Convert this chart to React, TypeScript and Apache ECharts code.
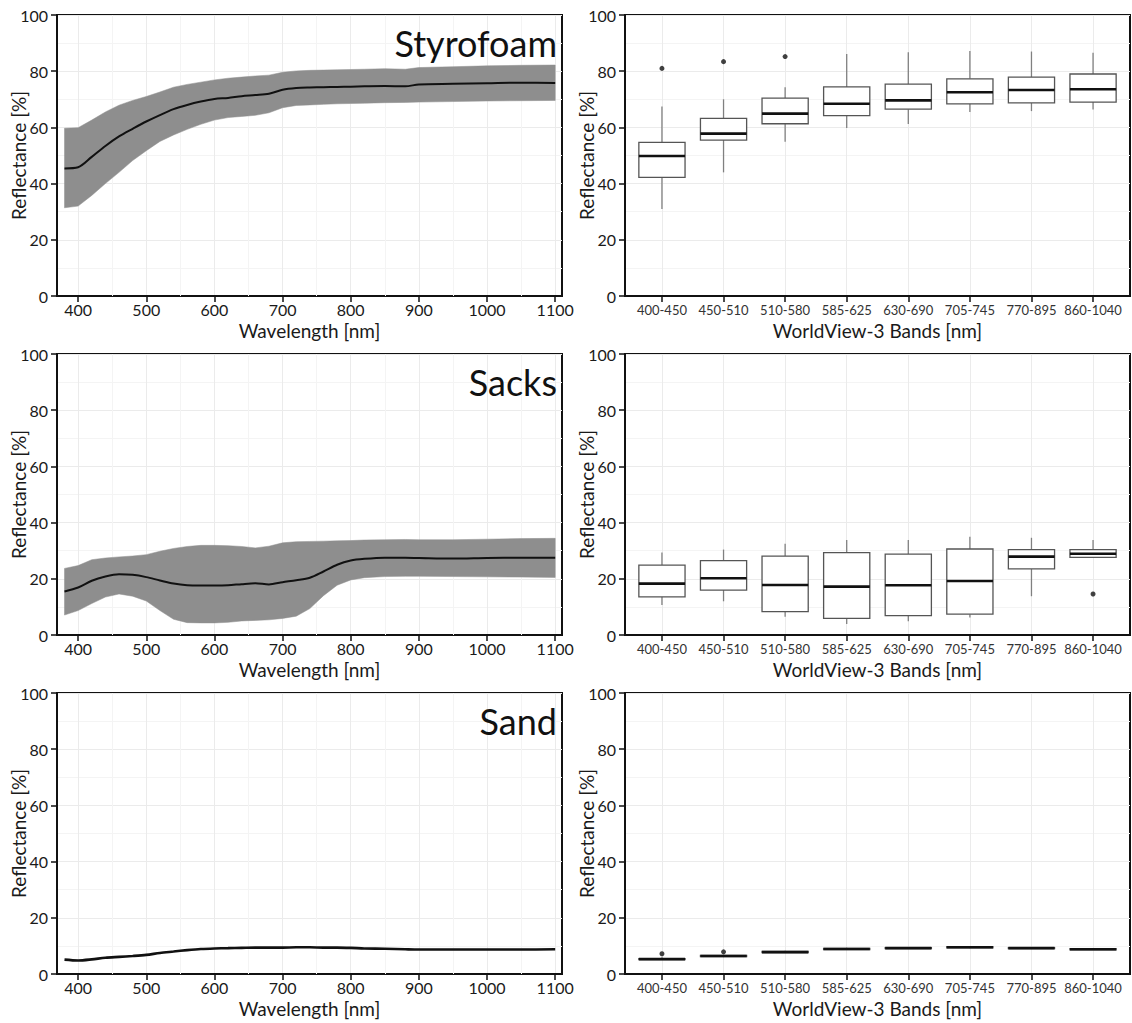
import React, { useEffect, useRef } from "react";
import * as echarts from "echarts";

// ---------- data ----------
const WAVELENGTHS = [380, 400, 420, 440, 460, 480, 500, 520, 540, 560, 580, 600, 620, 640, 660, 680, 700, 720, 740, 760, 780, 800, 820, 850, 880, 900, 950, 1000, 1050, 1100];

const STYRO_MEAN = [45.4, 45.8, 49.5, 53.4, 56.8, 59.5, 62.1, 64.4, 66.5, 68.0, 69.2, 70.1, 70.5, 71.1, 71.5, 72.0, 73.4, 74.0, 74.2, 74.3, 74.4, 74.5, 74.6, 74.7, 74.6, 75.3, 75.5, 75.7, 75.9, 75.8];
const STYRO_UPPER = [59.7, 59.9, 62.6, 65.5, 67.9, 69.6, 71.0, 72.6, 74.3, 75.3, 76.1, 76.9, 77.5, 77.9, 78.3, 78.6, 79.6, 80.1, 80.3, 80.4, 80.5, 80.6, 80.7, 80.9, 80.7, 81.3, 81.6, 81.9, 82.1, 82.2];
const STYRO_LOWER = [31.4, 32.0, 35.8, 40.0, 44.0, 48.2, 51.7, 55.0, 57.3, 59.3, 61.1, 62.6, 63.5, 63.9, 64.3, 65.2, 67.0, 67.8, 68.0, 68.2, 68.4, 68.5, 68.6, 68.8, 68.9, 69.0, 69.2, 69.4, 69.5, 69.6];

const SACKS_MEAN = [15.5, 16.9, 19.3, 20.8, 21.6, 21.4, 20.6, 19.4, 18.3, 17.7, 17.6, 17.6, 17.7, 18.1, 18.4, 18.0, 18.8, 19.5, 20.4, 22.6, 25.0, 26.5, 27.1, 27.5, 27.5, 27.4, 27.2, 27.4, 27.5, 27.5];
const SACKS_UPPER = [23.7, 24.7, 26.8, 27.4, 27.8, 28.1, 28.6, 29.8, 30.8, 31.5, 31.9, 31.9, 31.8, 31.5, 31.0, 31.6, 32.8, 33.2, 33.3, 33.4, 33.5, 33.6, 33.8, 33.9, 34.0, 33.9, 33.9, 34.1, 34.3, 34.4];
const SACKS_LOWER = [7.1, 8.7, 11.2, 13.5, 14.6, 13.8, 12.1, 8.7, 5.6, 4.4, 4.3, 4.3, 4.5, 5.0, 5.2, 5.4, 5.9, 6.7, 9.4, 14.0, 17.7, 19.6, 20.4, 20.8, 20.9, 20.9, 20.8, 20.7, 20.6, 20.5];

const SAND_MEAN = [5.1, 4.8, 5.2, 5.8, 6.1, 6.4, 6.8, 7.5, 8.0, 8.5, 8.9, 9.1, 9.2, 9.3, 9.4, 9.4, 9.4, 9.5, 9.5, 9.4, 9.4, 9.3, 9.1, 9.0, 8.8, 8.7, 8.7, 8.7, 8.7, 8.8];

const X_TICKS = [400, 500, 600, 700, 800, 900, 1000, 1100];
const X_MINOR = [450, 550, 650, 750, 850, 950, 1050];

const BANDS = ["400-450", "450-510", "510-580", "585-625", "630-690", "705-745", "770-895", "860-1040"];

// [whisker low, Q1, median, Q3, whisker high]
const STYRO_BOX = [
  [31.0, 42.2, 49.8, 54.7, 67.4],
  [44.0, 55.5, 57.8, 63.2, 70.0],
  [54.9, 61.3, 64.9, 70.4, 74.3],
  [59.8, 64.2, 68.4, 74.4, 86.1],
  [61.2, 66.5, 69.6, 75.4, 86.7],
  [65.5, 68.4, 72.5, 77.3, 87.2],
  [65.8, 68.7, 73.3, 77.9, 87.0],
  [66.4, 69.0, 73.6, 79.0, 86.6],
];
const STYRO_OUTLIERS = [[0, 81.0], [1, 83.4], [2, 85.2]];

const SACKS_BOX = [
  [10.7, 13.6, 18.3, 24.9, 29.4],
  [12.0, 16.0, 20.2, 26.5, 30.4],
  [6.5, 8.3, 17.8, 28.1, 32.5],
  [3.9, 5.9, 17.2, 29.3, 33.8],
  [4.9, 6.9, 17.7, 28.8, 33.8],
  [6.2, 7.4, 19.2, 30.6, 35.0],
  [13.8, 23.5, 27.9, 30.4, 34.6],
  [27.4, 27.6, 28.9, 30.4, 33.8],
];
const SACKS_OUTLIERS = [[7, 14.6]];

const SAND_BOX = [
  [5.0, 5.1, 5.3, 5.5, 6.0],
  [6.0, 6.2, 6.4, 6.6, 6.9],
  [7.5, 7.6, 7.8, 8.0, 8.3],
  [8.6, 8.7, 8.9, 9.1, 9.3],
  [8.9, 9.0, 9.2, 9.4, 9.6],
  [9.2, 9.3, 9.5, 9.7, 10.0],
  [8.9, 9.0, 9.2, 9.4, 9.6],
  [8.5, 8.6, 8.8, 9.0, 9.2],
];
const SAND_OUTLIERS = [[0, 7.2], [1, 7.9]];

const MATERIALS = ["Styrofoam", "Sacks", "Sand"];

// ---------- layout ----------
const W = 1132;
const H = 1023;
const ROW_TOPS = [15, 354, 693];
const ROW_H = 281;
const LEFT_X = 57;
const RIGHT_X = 625;
const PANEL_W = 505;
const FONT = "Lato, 'Open Sans', sans-serif";
const BOX_W = 0.75;
const NAME_SIZE = 19;

function buildOption() {
  const grids: any[] = [];
  const xAxes: any[] = [];
  const yAxes: any[] = [];
  const series: any[] = [];
  const graphics: any[] = [];

  const ribbons = [
    { mean: STYRO_MEAN, upper: STYRO_UPPER, lower: STYRO_LOWER },
    { mean: SACKS_MEAN, upper: SACKS_UPPER, lower: SACKS_LOWER },
    { mean: SAND_MEAN, upper: null as number[] | null, lower: null as number[] | null },
  ];
  const boxes = [
    { box: STYRO_BOX, out: STYRO_OUTLIERS },
    { box: SACKS_BOX, out: SACKS_OUTLIERS },
    { box: SAND_BOX, out: SAND_OUTLIERS },
  ];

  const yAxisBase = (gi: number) => ({
    type: "value",
    gridIndex: gi,
    min: 0,
    max: 100,
    interval: 20,
    name: "Reflectance [%]",
    nameLocation: "middle",
    nameGap: 29,
    nameMoveOverlap: false,
    nameTextStyle: { fontFamily: FONT, fontSize: NAME_SIZE, color: "#1a1a1a" },
    axisLine: { show: true, onZero: false, lineStyle: { color: "#111", width: 2 } },
    axisTick: { show: true, length: 6, lineStyle: { color: "#111", width: 1.5 } },
    axisLabel: { margin: 9, fontFamily: FONT, fontSize: 16, color: "#1a1a1a" },
    splitLine: { show: true, lineStyle: { color: "#ebebeb", width: 1 } },
    minorTick: { show: false, splitNumber: 2 },
    minorSplitLine: { show: true, lineStyle: { color: "#f4f4f4", width: 1 } },
  });

  for (let r = 0; r < 3; r++) {
    const top = ROW_TOPS[r];
    const gl = 2 * r;
    const gr = 2 * r + 1;
    grids.push({ left: LEFT_X, top, width: PANEL_W, height: ROW_H, show: true, borderColor: "#111", borderWidth: 2, backgroundColor: "#fff" });
    grids.push({ left: RIGHT_X, top, width: PANEL_W, height: ROW_H, show: true, borderColor: "#111", borderWidth: 2, backgroundColor: "#fff" });

    xAxes.push({
      type: "value",
      gridIndex: gl,
      min: 369,
      max: 1110,
      minInterval: 100,
      maxInterval: 100,
      name: "Wavelength [nm]",
      nameLocation: "middle",
      nameGap: 25,
      nameMoveOverlap: false,
      nameTextStyle: { fontFamily: FONT, fontSize: NAME_SIZE, color: "#1a1a1a" },
      axisLine: { show: true, onZero: false, lineStyle: { color: "#111", width: 2 } },
      axisTick: { show: true, customValues: X_TICKS, length: 6, lineStyle: { color: "#111", width: 1.5 } },
      axisLabel: { customValues: X_TICKS, formatter: (v: number) => String(v), margin: 5, fontFamily: FONT, fontSize: 16, color: "#1a1a1a" },
      splitLine: { show: true, lineStyle: { color: "#ebebeb", width: 1 } },
    });
    xAxes.push({
      type: "value",
      gridIndex: gr,
      min: -0.6,
      max: 7.6,
      minInterval: 1,
      maxInterval: 1,
      name: "WorldView-3 Bands [nm]",
      nameLocation: "middle",
      nameGap: 25,
      nameMoveOverlap: false,
      nameTextStyle: { fontFamily: FONT, fontSize: NAME_SIZE, color: "#1a1a1a" },
      axisLine: { show: true, onZero: false, lineStyle: { color: "#111", width: 2 } },
      axisTick: { show: true, customValues: [0, 1, 2, 3, 4, 5, 6, 7], length: 6, lineStyle: { color: "#111", width: 1.5 } },
      axisLabel: {
        customValues: [0, 1, 2, 3, 4, 5, 6, 7],
        formatter: (v: number) => BANDS[Math.round(v)] ?? "",
        margin: 7,
        fontFamily: FONT,
        fontSize: 13,
        color: "#333",
      },
      splitLine: { show: true, lineStyle: { color: "#ebebeb", width: 1 } },
    });
    yAxes.push(yAxisBase(gl));
    yAxes.push(yAxisBase(gr));

    // ---- spectra panel ----
    const rb = ribbons[r];
    if (rb.upper && rb.lower) {
      const lower = rb.lower;
      const upper = rb.upper;
      series.push({
        type: "custom",
        xAxisIndex: gl,
        yAxisIndex: gl,
        silent: true,
        clip: true,
        data: [[WAVELENGTHS[0], lower[0]]],
        encode: { x: 0, y: 1 },
        renderItem: (params: any, api: any) => {
          const pts: number[][] = [];
          for (let i = 0; i < WAVELENGTHS.length; i++) pts.push(api.coord([WAVELENGTHS[i], upper[i]]));
          for (let i = WAVELENGTHS.length - 1; i >= 0; i--) pts.push(api.coord([WAVELENGTHS[i], lower[i]]));
          return {
            type: "polygon",
            shape: { points: pts },
            style: { fill: "#8e8e8e", stroke: "#8e8e8e", lineWidth: 0.5 },
          };
        },
        z: 2,
      });
    }
    series.push({
      type: "line",
      xAxisIndex: gl,
      yAxisIndex: gl,
      silent: true,
      symbol: "none",
      smooth: 0.3,
      lineStyle: { color: "#111", width: r === 2 ? 2.6 : 2 },
      data: WAVELENGTHS.map((w, i) => [w, rb.mean[i]]),
      z: 3,
      markLine: {
        silent: true,
        z: 1,
        symbol: ["none", "none"],
        label: { show: false },
        lineStyle: { color: "#f4f4f4", width: 1, type: "solid" },
        data: X_MINOR.map((v) => ({ xAxis: v })),
      },
    });

    // ---- boxplot panel ----
    const bx = boxes[r];
    series.push({
      type: "custom",
      xAxisIndex: gr,
      yAxisIndex: gr,
      silent: true,
      encode: { x: 0, y: [1, 2, 3, 4, 5] },
      data: bx.box.map((b, i) => [i, b[0], b[1], b[2], b[3], b[4]]),
      renderItem: (params: any, api: any) => {
        const x = api.value(0);
        const lo = api.coord([x, api.value(1)]);
        const q1 = api.coord([x, api.value(2)]);
        const med = api.coord([x, api.value(3)]);
        const q3 = api.coord([x, api.value(4)]);
        const hi = api.coord([x, api.value(5)]);
        const w = api.size([BOX_W, 0])[0];
        const cx = lo[0];
        const whisk = { stroke: "#808080", lineWidth: 1.3 };
        return {
          type: "group",
          children: [
            { type: "line", shape: { x1: cx, y1: hi[1], x2: cx, y2: q3[1] }, style: whisk },
            { type: "line", shape: { x1: cx, y1: q1[1], x2: cx, y2: lo[1] }, style: whisk },
            {
              type: "rect",
              shape: { x: cx - w / 2, y: q3[1], width: w, height: Math.max(q1[1] - q3[1], 0.5) },
              style: { fill: "#fff", stroke: "#555", lineWidth: 1.3 },
            },
            { type: "line", shape: { x1: cx - w / 2, y1: med[1], x2: cx + w / 2, y2: med[1] }, style: { stroke: "#111", lineWidth: 2.6 } },
          ],
        };
      },
      z: 3,
    });
    series.push({
      type: "scatter",
      xAxisIndex: gr,
      yAxisIndex: gr,
      silent: true,
      symbol: "circle",
      symbolSize: 5,
      itemStyle: { color: "#111" },
      data: bx.out.map((o) => [o[0], o[1]]),
      z: 4,
    });

    graphics.push({
      type: "text",
      x: 557,
      y: top + 28,
      z: 10,
      style: {
        text: MATERIALS[r],
        align: "right",
        verticalAlign: "middle",
        fontFamily: FONT,
        fontSize: 36,
        fill: "#111",
      },
    });
  }

  return {
    animation: false,
    backgroundColor: "#fff",
    grid: grids,
    xAxis: xAxes,
    yAxis: yAxes,
    series,
    graphic: graphics,
  };
}

export default function App() {
  const ref = useRef<HTMLDivElement | null>(null);
  useEffect(() => {
    if (!ref.current) return;
    const chart = echarts.init(ref.current, undefined, { renderer: "svg" });
    chart.setOption(buildOption() as any);
    return () => chart.dispose();
  }, []);
  return <div ref={ref} style={{ position: "absolute", left: 0, top: 0, width: W, height: H, background: "#fff" }} />;
}
